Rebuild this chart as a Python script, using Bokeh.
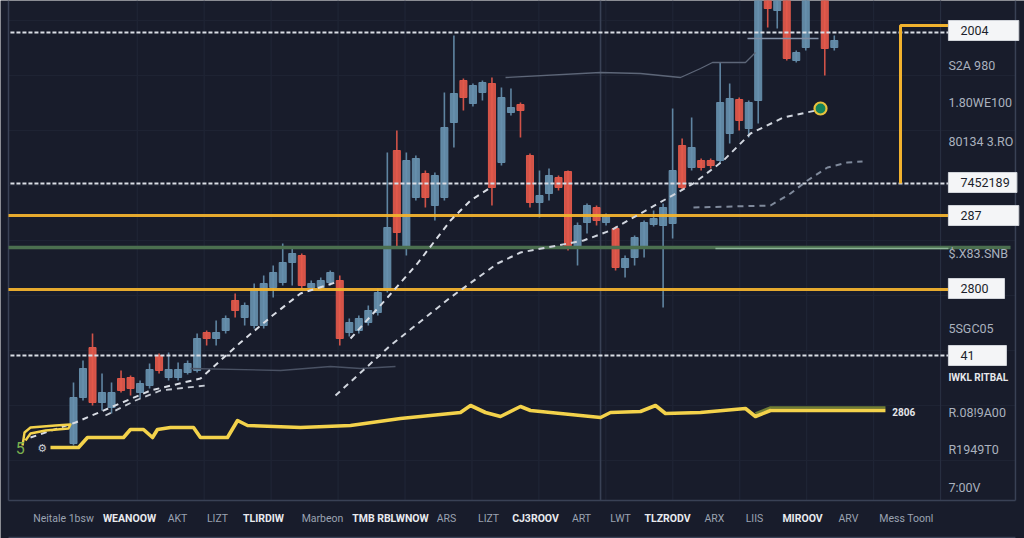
import numpy as np
from bokeh.plotting import figure
from bokeh.models import Range1d
from bokeh.core.properties import value
from bokeh.embed import file_html
from bokeh.resources import INLINE

# ---------------- data ----------------
days = list(range(0, 78)) + [79, 80]
opens = [57, 103, 153, 98, 93, 122, 123, 108, 115, 145, 123, 123, 128, 130, 168, 162, 170, 200, 183, 175,
         175, 213, 218, 238, 245, 213, 213, 218, 220, 168, 170, 178, 188, 210, 350, 253, 303, 327, 295, 303,
         378, 420, 397, 408, 417, 338, 388, 396, 345, 298, 307, 323, 329, 253, 278, 293, 278, 272, 233, 243,
         252, 276, 275, 277, 355, 333, 340, 340, 340, 367, 401, 372, 400, 510, 490, 510, 440, 453, 510, 453]
highs = [118, 140, 167, 127, 118, 130, 125, 120, 137, 147, 148, 138, 140, 167, 170, 180, 185, 207, 198, 217,
         225, 235, 257, 252, 247, 220, 223, 230, 225, 182, 185, 195, 212, 348, 370, 348, 345, 330, 328, 408,
         465, 422, 417, 420, 423, 413, 412, 398, 347, 330, 332, 325, 330, 278, 297, 295, 287, 274, 245, 265,
         280, 290, 297, 392, 362, 383, 342, 342, 438, 417, 403, 400, 515, 515, 515, 515, 450, 515, 515, 465]
lows = [55, 100, 95, 90, 87, 108, 105, 102, 112, 127, 120, 120, 126, 128, 155, 155, 167, 183, 175, 172,
        172, 203, 215, 215, 212, 210, 210, 215, 155, 164, 167, 175, 185, 208, 252, 245, 300, 293, 280, 300,
        353, 390, 394, 400, 295, 335, 385, 363, 293, 283, 300, 310, 250, 235, 267, 275, 275, 230, 223, 235,
        243, 274, 193, 262, 310, 330, 330, 332, 337, 357, 370, 363, 377, 473, 472, 440, 438, 450, 425, 450]
closes = [103, 132, 98, 108, 108, 110, 112, 117, 131, 130, 131, 131, 137, 162, 162, 168, 182, 190, 195, 212,
          217, 228, 238, 247, 215, 217, 220, 228, 162, 178, 182, 190, 208, 273, 268, 340, 342, 303, 325, 373,
          407, 403, 415, 418, 313, 403, 393, 390, 298, 305, 325, 313, 255, 275, 295, 280, 285, 233, 242, 263,
          278, 282, 293, 330, 313, 353, 333, 335, 398, 402, 380, 398, 510, 492, 510, 442, 448, 510, 452, 460]

# horizontal levels
dashed_levels = [468, 317, 145]
orange_levels = [285, 211]
green_level = 253

# trend lines (day, price)
trend_a_x = [-4.52, 0.21, 3.89, 8.10, 13.35, 17.56, 20.93, 23.87, 27.55]
trend_a_y = [63, 78, 93, 110, 122, 158, 185, 207, 218]
trend_b_x = [3.36, 6.52, 9.15, 13.88]
trend_b_y = [85, 100, 110, 115]
trend_c_x = [29.13, 33.02, 36.17, 39.64, 41.75, 43.85]
trend_c_y = [162, 203, 237, 280, 300, 313]
trend_d_x = [27.55, 33.33, 39.64, 44.58, 47.0, 50.89, 53.63, 56.47, 59.62, 65.19, 68.35, 71.19, 74.66, 78.55]
trend_d_y = [105, 155, 203, 237, 248, 255, 260, 270, 287, 317, 340, 367, 383, 391]
trend_e_x = [65.19, 73.29, 75.39, 77.18, 79.28, 81.39, 82.97]
trend_e_y = [293, 295, 307, 320, 333, 338, 339]
ma_top_x = [45.43, 55.42, 59.62, 63.83, 65.93, 67.19, 70.66, 71.71]
ma_top_y = [423, 428, 427, 423, 432, 438, 438, 448]
ma_low_x = [12.30, 21.77, 27.02, 30.18, 33.86]
ma_low_y = [132, 130, 134, 132, 134]
marker_day, marker_price = 78.55, 392

# yellow line
yel_x = [-2.42, 0.53, 1.47, 5.26, 5.99, 7.36, 8.31, 8.83, 10.2, 12.62, 13.35, 16.19, 17.25, 18.3, 23.87,
         29.13, 34.38, 38.59, 40.69, 41.75, 43.32, 44.9, 47.0, 48.05, 50.16, 53.31, 55.42, 56.47, 59.62,
         61.2, 62.25, 65.93, 70.66, 71.71, 73.29, 85.38]
yel_y = [53, 53, 63, 63, 71, 71, 63, 71, 73, 73, 63, 63, 80, 75, 73, 75, 82, 86, 88, 95, 88, 84, 94, 90,
         88, 85, 83, 88, 89, 95, 87, 88, 92, 84, 90, 90]
doodle_x = [-5.36, -5.15, -4.52, -1.89, -0.32, -0.53, -2.94, -4.52, -5.05]
doodle_y = [55, 68, 73, 75, 76, 72, 70, 67, 60]

# right-hand labels
box_labels = ["2004", "7452189", "287", "2800", "41"]
box_levels = [470, 318, 285, 212, 145]
side_labels = ["S2A 980", "1.80WE100", "80134 3.RO", "$.X83.SNB", "5SGC05", "IWKL RITBAL",
               "R.08!9A00", "R1949T0", "7:00V"]
side_levels = [435, 398, 359, 247, 172, 123, 88, 51, 13]
yel_label = "2806"

# bottom labels
tick_days = [-1.05, 5.89, 10.94, 15.14, 19.98, 26.18, 33.33, 39.22, 43.64, 48.58, 53.42, 57.52,
             62.46, 67.40, 71.61, 76.66, 81.49, 87.59]
tick_labels = ["Neitale 1bsw", "WEANOOW", "AKT", "LIZT", "TLIRDIW", "Marbeon", "TMB RBLWNOW", "ARS",
               "LIZT", "CJ3ROOV", "ART", "LWT", "TLZRODV", "ARX", "LIIS", "MIROOV", "ARV", "Mess Toonl"]

# ---------------- figure ----------------
BG = "#181c2b"
FONT = value("Roboto")
p = figure(width=1024, height=538, x_range=Range1d(-7.676, 100.0), y_range=Range1d(-38, 500),
           output_backend="svg", toolbar_location=None,
           background_fill_color=BG, border_fill_color=BG,
           min_border_left=0, min_border_right=0, min_border_top=0, min_border_bottom=0,
           x_axis_location=None, y_axis_location=None)
p.outline_line_color = None
p.grid.visible = False

LEFT, RIGHT, TOPV = -6.835, 99.05, 500
# faint grid
gx = list(np.arange(6.7, 92, 7.04))
p.segment(gx, [0] * len(gx), gx, [TOPV] * len(gx), line_color="#212738", line_width=1)
gy = list(range(40, 500, 55))
p.segment([LEFT] * len(gy), gy, [RIGHT] * len(gy), gy, line_color="#1e2333", line_width=1)
# panel frame & dividers
p.segment([LEFT, RIGHT, 55.42, 91.17], [0, 0, 0, 0], [LEFT, RIGHT, 55.42, 91.17], [TOPV] * 4,
          line_color=["#394155", "#394155", "#394155", "#272e40"], line_width=[1.5, 1.5, 1.6, 1.2])
p.segment([LEFT, LEFT], [0, -37], [RIGHT, RIGHT], [0, -37], line_color="#394155", line_width=1.5)

# candles
o = np.array(opens); c = np.array(closes)
up = c >= o
colors = np.where(up, "#6790ae", "#e4594b")
top = np.maximum(o, c)
bot = np.minimum(o, c)
bot = np.where(top - bot < 3, top - 3, bot)
src = dict(x=days, h=highs, l=lows, t=top, b=bot, col=colors)
p.segment("x", "h", "x", "l", source=src, line_color="col", line_width=1.6, line_alpha=0.9)
p.vbar(x="x", width=0.74, top="t", bottom="b", source=src, fill_color="col", line_color="col",
       fill_alpha=0.92, line_alpha=0.92)

# thin grey averages
p.line(ma_top_x, ma_top_y, line_color="#5d6678", line_width=1.3)
p.line(ma_low_x, ma_low_y, line_color="#4a5264", line_width=1.3)
p.segment(70.87, 462, 78.34, 462, line_color="#8290a6", line_width=1.5)

# horizontal levels
XS, XE = -6.63, 92.0
p.segment([XS] * 3, dashed_levels, [XE] * 3, dashed_levels, line_color="#d9dde5", line_width=2,
          line_dash="4 2")
p.segment([LEFT] * 2, orange_levels, [XE] * 2, orange_levels, line_color="#f1b22e", line_width=3.2,
          line_alpha=0.95)
p.segment(LEFT, green_level, 98.53, green_level, line_color="#4b6f4f", line_width=3.5)
p.segment(67.5, green_level - 1, XE, green_level - 1, line_color="#8db596", line_width=1.6)
# bracket
p.line([86.96, 86.96, XE], [317, 475, 475], line_color="#f1b22e", line_width=3)

# trend lines
for xs, ys, col, w in [(trend_a_x, trend_a_y, "#d9dde5", 2), (trend_b_x, trend_b_y, "#c4c9d2", 1.8),
                       (trend_c_x, trend_c_y, "#d9dde5", 2), (trend_d_x, trend_d_y, "#d0d5de", 2),
                       (trend_e_x, trend_e_y, "#7f899b", 2)]:
    p.line(xs, ys, line_color=col, line_width=w, line_dash="6 5")
p.scatter([marker_day], [marker_price], size=12, fill_color="#14845b", line_color="#e6c13c",
          line_width=2.2)

# yellow line
p.line(yel_x[-3:], [v + 3 for v in yel_y[-3:]], line_color="#6f7d34", line_width=2.5)
p.line(yel_x, yel_y, line_color="#f3d24b", line_width=3.6, line_join="round")
p.line(doodle_x, doodle_y, line_color="#f3d24b", line_width=2.4, line_join="round")
p.text([-5.6], [53], text=["5"], text_color="#7bb04f", text_font=FONT,
       text_font_size="16px", text_baseline="middle", text_align="center")
p.text([-3.3], [52], text=["⚙"], text_color="#c8ccd4", text_font=value("DejaVu Sans"),
       text_font_size="11px", text_baseline="middle", text_align="center")
p.text([86.1], [89], text=[yel_label], text_color="#e4e6ea", text_font=FONT,
       text_font_size="10px", text_font_style="bold", text_baseline="middle")

# right boxes
widths = [7.4, 7.2, 7.4, 5.9, 6.1]
p.rect([XE + w / 2 for w in widths], box_levels, width=widths, height=20, fill_color="#f4f5f7",
       line_color="#d0d3d9", line_width=1)
p.text([93.27] * 5, box_levels, text=box_labels, text_color="#1b1f2b", text_font=FONT,
       text_font_size="12.5px", text_baseline="middle")
reg = [i for i in range(len(side_labels)) if side_labels[i] != "IWKL RITBAL"]
p.text([XE] * len(reg), [side_levels[i] for i in reg], text=[side_labels[i] for i in reg],
       text_color="#aab1be", text_font=FONT, text_font_size="12.5px", text_baseline="middle")
bi = side_labels.index("IWKL RITBAL")
p.text([XE], [side_levels[bi]], text=[side_labels[bi]], text_color="#e6e8ec", text_font=FONT,
       text_font_size="10px", text_font_style="bold", text_baseline="middle")

# bottom labels
bold_idx = {1, 4, 6, 9, 12, 15}
ri = [i for i in range(len(tick_days)) if i not in bold_idx]
bi2 = sorted(bold_idx)
p.text([tick_days[i] for i in ri], [-18] * len(ri), text=[tick_labels[i] for i in ri],
       text_color="#9ba3b2", text_font=FONT, text_font_size="10.5px", text_align="center",
       text_baseline="middle")
p.text([tick_days[i] for i in bi2], [-18] * len(bi2), text=[tick_labels[i] for i in bi2],
       text_color="#e8eaee", text_font=FONT, text_font_size="10.5px", text_font_style="bold",
       text_align="center", text_baseline="middle")

open("out.html", "w").write(file_html(p, INLINE))
